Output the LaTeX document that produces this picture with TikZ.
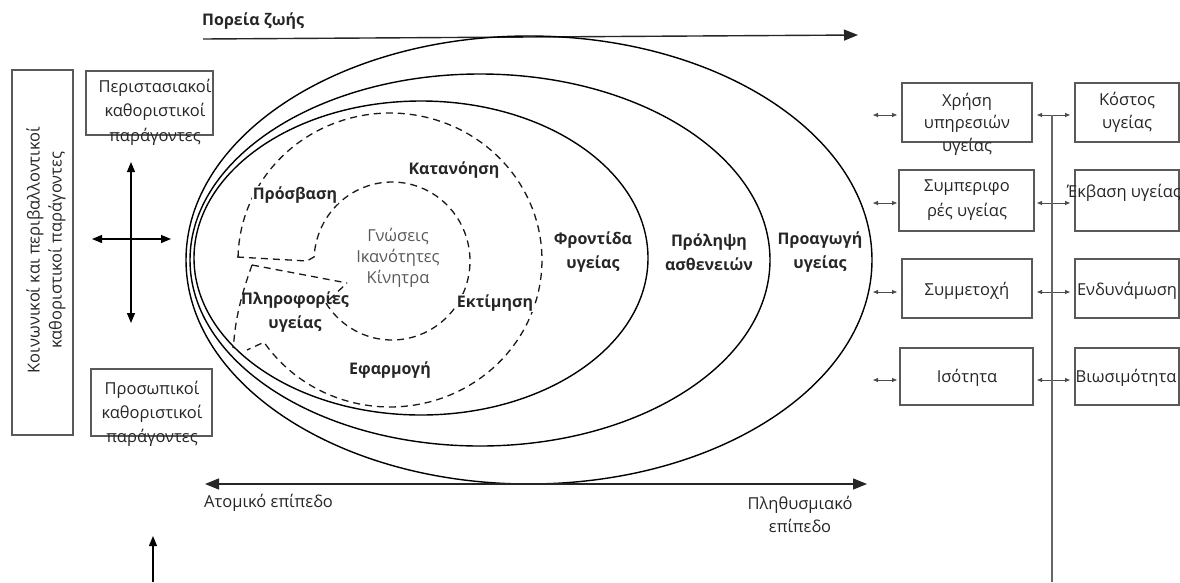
\documentclass[tikz,border=0pt]{standalone}
\usepackage{fontspec}
\setmainfont{Open Sans}
\usetikzlibrary{arrows.meta,shapes.geometric}
\begin{document}
\begin{tikzpicture}[x=1pt,y=-1pt,
  txt/.style={font=\fontsize{16.5}{23}\selectfont, text=black!85, align=center, inner sep=0pt},
  btxt/.style={font=\fontsize{16}{24}\selectfont\bfseries, text=black!85, align=center, inner sep=0pt},
  gbox/.style={draw=black!65, line width=1.1pt, rectangle, inner sep=0pt},
  ell/.style={draw=black, line width=1.4pt, ellipse, inner sep=0pt},
  dsh/.style={draw=black!90, line width=1.3pt, dash pattern=on 7pt off 5pt},
  bigarr/.style={line width=1.4pt, draw=black!85},
  smallarr/.style={line width=0.8pt, draw=black!70, {Triangle[length=5pt,width=4pt]}-{Triangle[length=5pt,width=4pt]}},
]
\useasboundingbox (0,0) rectangle (1180,582);

% ---- top life-course arrow
\node[btxt, anchor=west] (lifecourse) at (202,21) {Πορεία ζωής};
\coordinate (lcA) at (203,39);
\coordinate (lcB) at (858,35);
\draw[bigarr, -{Triangle[length=14pt,width=11pt]}] (lcA) -- (lcB);

% ---- ellipses
\node[ell, minimum width=686pt, minimum height=448pt] (e1) at (529,260) {};
\node[ell, minimum width=580pt, minimum height=372pt] (e2) at (480,260) {};
\node[ell, minimum width=454pt, minimum height=314pt] (e3) at (421,258) {};

\node[btxt] (promo) at (820,252) {Προαγωγή\\υγείας};
\node[btxt] (prev) at (709,252) {Πρόληψη\\ασθενειών};
\node[btxt] (care) at (593,252) {Φροντίδα\\υγείας};

% ---- dashed health-literacy shapes
\draw[dsh] plot[domain=181:506, samples=120, variable=\t] ({390+152*cos(\t)},{260+147*sin(\t)}) -- (247,350);
\draw[dsh] (237,257) -- (307,261) -- plot[domain=183:508, samples=100, variable=\t] ({392+78*cos(\t)},{261+79*sin(\t)}) -- (347,283);
\draw[dsh] (252,265) -- (347,283);
\draw[dsh] (252,265) .. controls (243,290) and (236,315) .. (234,340) -- (233,348);

\node[btxt] (understand) at (454,170) {Κατανόηση};
\node[btxt, fill=white, inner sep=1pt] (access) at (295,195) {Πρόσβαση};
\node[txt, text=black!65, font=\fontsize{16.5}{21}\selectfont] (core) at (398,258) {Γνώσεις\\Ικανότητες\\Κίνητρα};
\node[btxt, fill=white, inner sep=1pt] (appraise) at (495,303) {Εκτίμηση};
\node[btxt] (info) at (295,312) {Πληροφορίες\\υγείας};
\node[btxt] (apply) at (390,370) {Εφαρμογή};

% ---- bottom individual/population arrow
\coordinate (indA) at (205,484);
\coordinate (indB) at (867,484);
\draw[bigarr, {Triangle[length=14pt,width=11pt]}-{Triangle[length=14pt,width=11pt]}] (indA) -- (indB);
\node[txt, anchor=west] (indiv) at (204,503) {Ατομικό επίπεδο};
\node[txt] (popul) at (800,514) {Πληθυσμιακό\\επίπεδο};

% ---- left side
\node[gbox, minimum width=61pt, minimum height=365pt] (socbox) at (42.5,252.5) {};
\node[txt, rotate=90, font=\fontsize{16.5}{22}\selectfont] (soctxt) at (46,250) {Κοινωνικοί και περιβαλλοντικοί\\καθοριστικοί παράγοντες};

\node[gbox, minimum width=127pt, minimum height=64pt] (sitbox) at (149.5,103) {};
\node[txt, font=\fontsize{16.5}{24.5}\selectfont] (sittxt) at (155,112) {Περιστασιακοί\\καθοριστικοί\\παράγοντες};

\node[gbox, minimum width=121pt, minimum height=67pt] (perbox) at (151.5,402.5) {};
\node[txt, font=\fontsize{16.5}{24}\selectfont] (pertxt) at (152,414) {Προσωπικοί\\καθοριστικοί\\παράγοντες};

\coordinate (crL) at (92,239);
\coordinate (crR) at (171,239);
\coordinate (crT) at (131,162);
\coordinate (crB) at (131,323);
\draw[line width=1.2pt, {Triangle[length=10pt,width=8pt]}-{Triangle[length=10pt,width=8pt]}] (crL) -- (crR);
\draw[line width=1.2pt, {Triangle[length=10pt,width=8pt]}-{Triangle[length=10pt,width=8pt]}] (crT) -- (crB);

\coordinate (upA) at (153,582);
\coordinate (upB) at (153,536);
\draw[line width=1.2pt, -{Triangle[length=10pt,width=8pt]}] (upA) -- (upB);

% ---- right side boxes
\node[gbox, minimum width=130pt, minimum height=59pt] (b1) at (967,112.5) {};
\node[gbox, minimum width=135pt, minimum height=61pt] (b2) at (966.5,200.5) {};
\node[gbox, minimum width=130pt, minimum height=59pt] (b3) at (967,288.5) {};
\node[gbox, minimum width=133pt, minimum height=57pt] (b4) at (966.5,376.5) {};

\node[gbox, minimum width=104pt, minimum height=59pt] (c1) at (1127,112.5) {};
\node[gbox, minimum width=104pt, minimum height=61pt] (c2) at (1127,200.5) {};
\node[gbox, minimum width=104pt, minimum height=59pt] (c3) at (1127,288.5) {};
\node[gbox, minimum width=104pt, minimum height=57pt] (c4) at (1127,376.5) {};

\node[txt, font=\fontsize{16.5}{22.5}\selectfont] (t1) at (967,124) {Χρήση\\υπηρεσιών\\υγείας};
\node[txt, font=\fontsize{16.5}{25}\selectfont] (t2) at (967,200) {Συμπεριφο\\ρές υγείας};
\node[txt] (t3) at (967,291) {Συμμετοχή};
\node[txt] (t4) at (967,378) {Ισότητα};

\node[txt, font=\fontsize{16.5}{23}\selectfont] (u1) at (1127,112) {Κόστος\\υγείας};
\node[txt, anchor=west] (u2) at (1067,193) {Έκβαση υγείας};
\node[txt] (u3) at (1127,291) {Ενδυνάμωση};
\node[txt] (u4) at (1126,378) {Βιωσιμότητα};

% small double arrows
\foreach \r/\y in {1/115,2/203,3/292,4/380}{
  \coordinate (la\r) at (873,\y);
  \coordinate (lb\r) at (897,\y);
  \coordinate (ma\r) at (1037,\y);
  \coordinate (mb\r) at (1070,\y);
  \draw[smallarr] (la\r) -- (lb\r);
  \draw[smallarr] (ma\r) -- (mb\r);
}
\coordinate (vtop) at (1052,115);
\coordinate (vbot) at (1052,582);
\draw[line width=1.1pt, draw=black!60] (vtop) -- (vbot);
\end{tikzpicture}
\end{document}
